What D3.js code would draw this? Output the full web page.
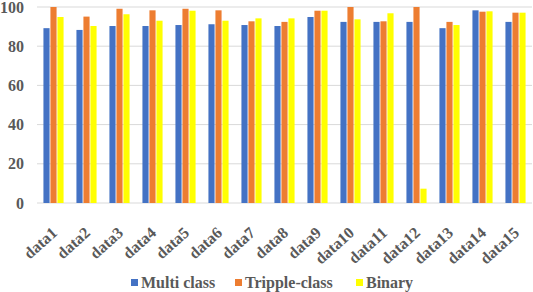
<!DOCTYPE html>
<html>
<head>
<meta charset="utf-8">
<script src="https://cdn.jsdelivr.net/npm/d3@7"></script>
<style>
  body { margin: 0; background: #fff; }
  svg text { font-family: "Liberation Serif", "Times New Roman", serif; font-weight: bold; fill: #595959; }
</style>
</head>
<body>
<svg id="chart"></svg>
<script>
const categories = ["data1","data2","data3","data4","data5","data6","data7","data8","data9","data10","data11","data12","data13","data14","data15"];
const seriesNames = ["Multi class", "Tripple-class", "Binary"];
const multiClass = [89.2, 88.3, 90.3, 90.3, 90.8, 91.2, 90.8, 90.3, 94.9, 92.4, 92.4, 92.4, 89.2, 98.3, 92.4];
const trippleClass = [100, 95.1, 99.1, 98.3, 99.1, 98.3, 92.7, 92.4, 98.1, 100, 92.7, 100, 92.4, 97.6, 97.1];
const binary = [94.9, 90.3, 96.3, 93.0, 98.1, 93.0, 94.2, 94.2, 98.1, 93.7, 96.8, 7.3, 90.8, 97.8, 97.1];
const yTicks = [0, 20, 40, 60, 80, 100];
const colors = ["#4472C4", "#ED7D31", "#FFFF00"];

const W = 533, H = 292;
const margin = { top: 7, right: 1, bottom: 89, left: 37 };
const width = W - margin.left - margin.right;
const height = H - margin.top - margin.bottom;

const svg = d3.select("#chart").attr("width", W).attr("height", H);
const g = svg.append("g").attr("transform", `translate(${margin.left},${margin.top})`);

const series = [multiClass, trippleClass, binary];
const rows = categories.map((c, i) => ({ cat: c, vals: series.map(s => s[i]) }));

const x0 = d3.scaleBand().domain(categories).range([0, width]).paddingInner(0.39).paddingOuter(0.195);
const x1 = d3.scaleBand().domain(d3.range(series.length)).range([0, x0.bandwidth()]).paddingInner(0.12);
const y = d3.scaleLinear().domain([0, 100]).range([height, 0]);

// gridlines
g.append("g")
  .selectAll("line")
  .data(yTicks)
  .enter()
  .append("line")
  .attr("x1", 0)
  .attr("x2", width)
  .attr("y1", d => y(d))
  .attr("y2", d => y(d))
  .attr("stroke", "#D9D9D9")
  .attr("stroke-width", 1);

// y axis labels
const yAxis = d3.axisLeft(y).tickValues(yTicks).tickSize(0).tickPadding(13);
g.append("g")
  .call(yAxis)
  .attr("font-family", null)
  .call(a => a.select(".domain").remove())
  .selectAll("text")
  .style("font-size", "16px")
  .attr("fill", "#595959");

// bars
const groups = g.selectAll(".grp")
  .data(rows)
  .enter()
  .append("g")
  .attr("class", "grp")
  .attr("transform", d => `translate(${x0(d.cat)},0)`);

groups.selectAll("rect")
  .data(d => d.vals)
  .enter()
  .append("rect")
  .attr("x", (d, i) => x1(i))
  .attr("y", d => y(d))
  .attr("width", x1.bandwidth())
  .attr("height", d => height - y(d))
  .attr("fill", (d, i) => colors[i]);

// x axis labels
const xAxis = d3.axisBottom(x0).tickSize(0).tickPadding(0);
g.append("g")
  .attr("transform", `translate(0,${height})`)
  .call(xAxis)
  .attr("font-family", null)
  .call(a => a.select(".domain").remove())
  .selectAll("text")
  .style("font-size", "16px")
  .attr("fill", "#595959")
  .attr("text-anchor", "end")
  .attr("dy", "0.35em")
  .attr("transform", "translate(1,27) rotate(-42)");

// legend
const legendX = [131, 235, 356];
const legend = svg.append("g").attr("transform", "translate(0,282)");
seriesNames.forEach((name, i) => {
  legend.append("rect")
    .attr("x", legendX[i])
    .attr("y", -3)
    .attr("width", 7)
    .attr("height", 7)
    .attr("fill", colors[i]);
  legend.append("text")
    .attr("x", legendX[i] + 10)
    .attr("y", 6)
    .style("font-size", "16px")
    .text(name);
});
</script>
</body>
</html>
